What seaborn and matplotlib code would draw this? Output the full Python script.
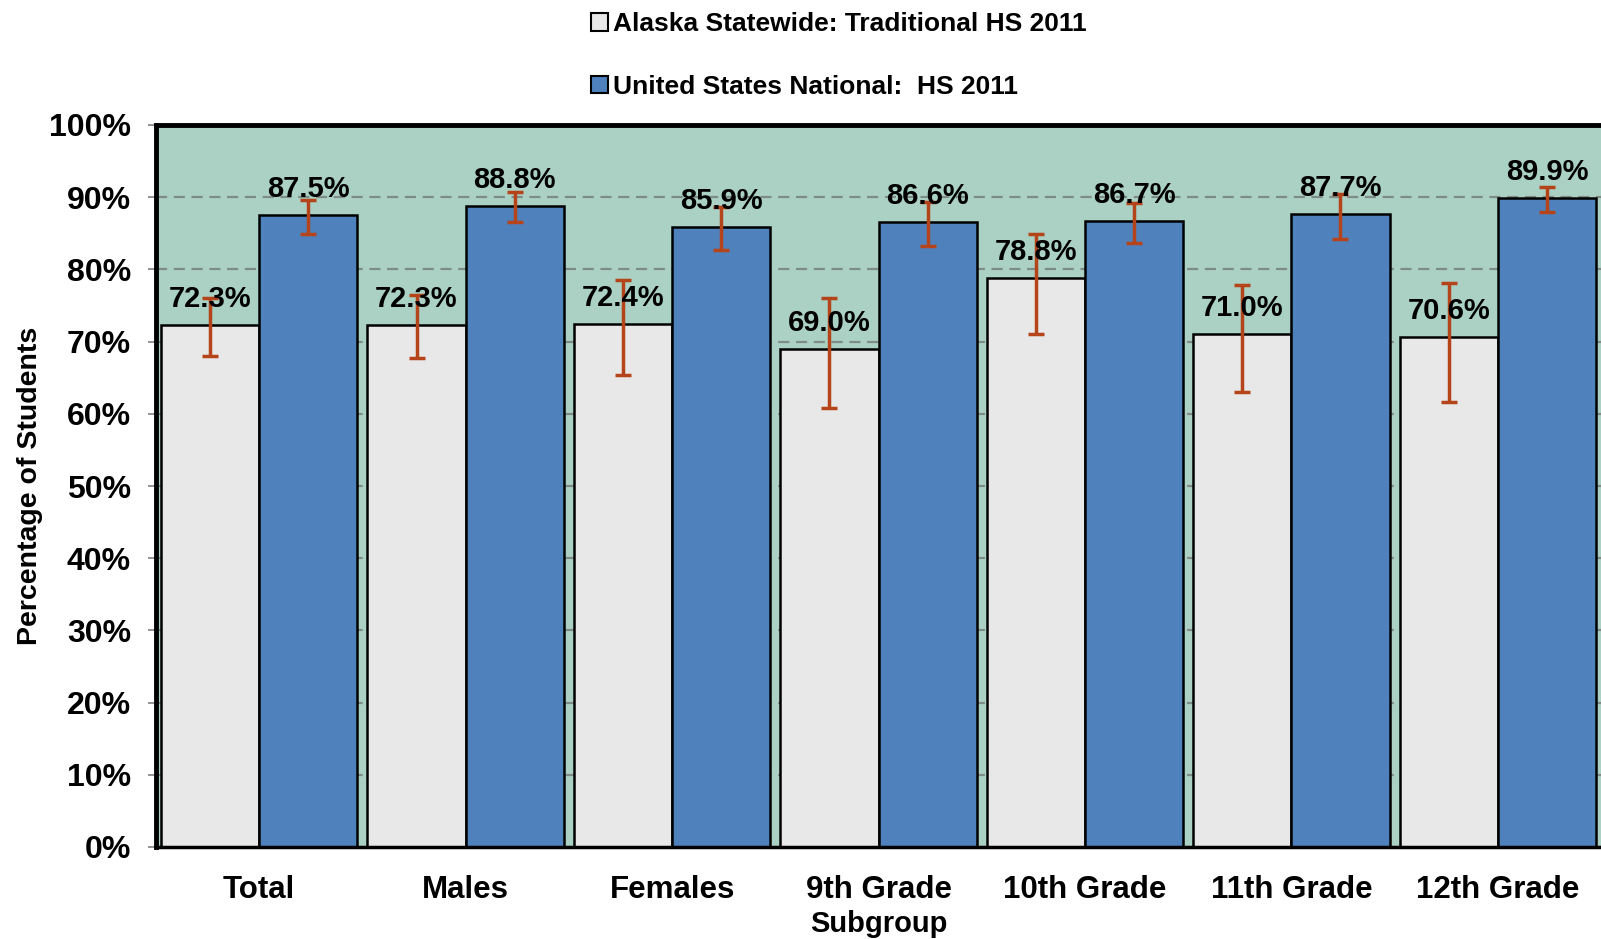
import matplotlib
matplotlib.use('Agg')
import matplotlib.pyplot as plt
from matplotlib.patches import Patch
import numpy as np
import pandas as pd
import seaborn as sns

categories = ['Total', 'Males', 'Females', '9th Grade', '10th Grade', '11th Grade', '12th Grade']
series = ['Alaska Statewide: Traditional HS 2011', 'United States National:  HS 2011']
alaska = [72.3, 72.3, 72.4, 69.0, 78.8, 71.0, 70.6]
alaska_lo = [68.0, 67.7, 65.4, 60.8, 71.0, 63.0, 61.7]
alaska_hi = [76.1, 76.4, 78.6, 76.1, 84.9, 77.8, 78.1]
national = [87.5, 88.8, 85.9, 86.6, 86.7, 87.7, 89.9]
national_lo = [84.9, 86.5, 82.7, 83.2, 83.6, 84.2, 87.9]
national_hi = [89.6, 90.7, 88.7, 89.3, 89.2, 90.4, 91.4]

colors = ['#e8e8e8', '#4f81bd']
err_color = '#b5441a'

df = pd.DataFrame({
    'Subgroup': categories * 2,
    'Series': [series[0]] * len(categories) + [series[1]] * len(categories),
    'Value': alaska + national,
})

sns.set_style('white')
plt.rcParams['font.family'] = ['Liberation Sans', 'DejaVu Sans']
plt.rcParams['font.weight'] = 'bold'
plt.rcParams['text.color'] = 'black'
plt.rcParams['axes.labelcolor'] = 'black'
plt.rcParams['xtick.labelcolor'] = 'black'
plt.rcParams['ytick.labelcolor'] = 'black'

fig = plt.figure(figsize=(16.01, 9.39), dpi=100)
ax = fig.add_axes([156 / 1601, 92 / 939, 1 - 156 / 1601, 722 / 939])

sns.barplot(data=df, x='Subgroup', y='Value', hue='Series', palette=colors, saturation=1,
            width=0.952, gap=0, errorbar=None, edgecolor='black', linewidth=1.8,
            legend=False, ax=ax)

lows = [alaska_lo, national_lo]
highs = [alaska_hi, national_hi]
vals = [alaska, national]
for cont, v, lo, hi in zip(ax.containers, vals, lows, highs):
    xs = np.array([p.get_x() + p.get_width() / 2 for p in cont])
    v = np.array(v)
    ax.errorbar(xs, v, yerr=[v - np.array(lo), np.array(hi) - v], fmt='none',
                ecolor=err_color, elinewidth=2.5, capsize=5.5, capthick=2.5, zorder=4)
    for x, val in zip(xs, v):
        ax.annotate(f'{val:.1f}%', (x, val), xytext=(0, 13), textcoords='offset points',
                    ha='center', va='baseline', fontsize=21, fontweight='bold', zorder=5)

ax.set_facecolor('#aad1c4')
ax.set_ylim(0, 100)
ax.set_xlim(-0.5, 6.5)
ax.set_yticks(range(0, 101, 10))
ax.set_yticklabels([f'{t}%' for t in range(0, 101, 10)], fontsize=23, fontweight='bold')
ax.set_xticks(range(len(categories)))
ax.set_xticklabels(categories, fontsize=22.5, fontweight='bold')
ax.set_xticks(np.arange(-0.5, 7, 1), minor=True)
ax.tick_params(axis='x', which='major', length=0, pad=20)
ax.tick_params(axis='x', which='minor', length=8, width=1.2, color='#808080', direction='out')
ax.tick_params(axis='y', length=6, width=1.2, color='#808080', direction='out', pad=12, left=True)

ax.yaxis.grid(True, linestyle=(0, (5, 3)), color='#7f8c86', linewidth=1.6)
ax.set_axisbelow(True)

for side in ['left', 'top', 'bottom']:
    ax.spines[side].set_visible(True)
    ax.spines[side].set_color('black')
ax.spines['left'].set_linewidth(3.5)
ax.spines['top'].set_linewidth(3.5)
ax.spines['bottom'].set_linewidth(2.5)
ax.spines['right'].set_visible(False)

ax.set_xlabel('Subgroup', fontsize=21, fontweight='bold', labelpad=4)
ax.set_ylabel('Percentage of Students', fontsize=20.5, fontweight='bold', labelpad=4)

handles = [Patch(facecolor=c, edgecolor='black', linewidth=1.5) for c in colors]
fig.legend(handles, series, loc='upper left', bbox_to_anchor=(567 / 1601, 1.012),
           frameon=False, prop={'size': 19, 'weight': 'bold'},
           handlelength=0.65, handleheight=0.65, handletextpad=0.2, labelspacing=1.45)

fig.savefig('out.png', dpi=100)
